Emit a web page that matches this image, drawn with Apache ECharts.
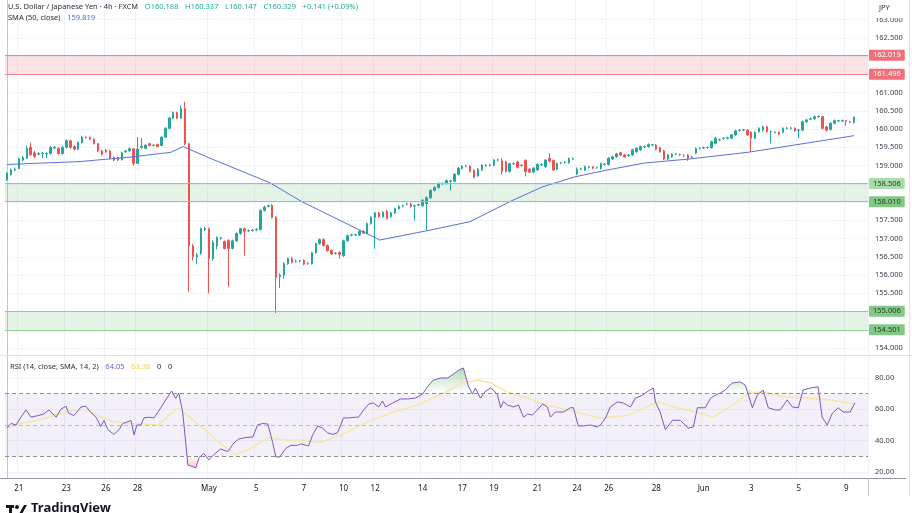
<!DOCTYPE html>
<html>
<head>
<meta charset="utf-8">
<title>USD/JPY 4h</title>
<script src="https://cdn.jsdelivr.net/npm/echarts@6/dist/echarts.min.js"></script>
<style>
  html, body { margin: 0; padding: 0; background: #fff; }
  #chart { width: 912px; height: 513px; }
</style>
</head>
<body>
<div id="chart"></div>
<script>
// 4h candles, ECharts order: [open, close, low, high]
const candles = [
  [158.62,158.78,158.58,158.82],[158.75,158.88,158.72,158.92],[158.88,158.90,158.85,158.95],[158.92,159.18,158.90,159.22],
  [159.15,159.22,159.12,159.26],[159.20,159.47,159.18,159.55],[159.50,159.30,159.26,159.62],[159.35,159.25,159.20,159.40],
  [159.31,159.33,159.28,159.37],[159.33,159.34,159.20,159.37],[159.32,159.33,159.20,159.36],[159.33,159.50,159.30,159.53],
  [159.48,159.50,159.45,159.54],[159.47,159.33,159.30,159.50],[159.33,159.50,159.30,159.55],[159.50,159.68,159.47,159.72],
  [159.68,159.50,159.46,159.70],[159.52,159.45,159.42,159.56],[159.45,159.63,159.42,159.66],[159.63,159.78,159.60,159.82],
  [159.78,159.77,159.74,159.80],[159.77,159.72,159.70,159.80],[159.72,159.60,159.58,159.75],[159.60,159.40,159.37,159.62],
  [159.40,159.30,159.27,159.43],[159.42,159.38,159.35,159.46],[159.40,159.20,159.17,159.43],[159.15,159.22,159.12,159.25],
  [159.22,159.15,159.12,159.25],[159.16,159.35,159.14,159.38],[159.38,159.40,159.35,159.43],[159.40,159.46,159.38,159.50],
  [159.46,159.06,159.00,159.48],[159.06,159.45,159.04,159.78],[159.50,159.52,159.46,159.75],[159.47,159.56,159.45,159.58],
  [159.60,159.55,159.52,159.62],[159.55,159.56,159.53,159.58],[159.58,159.52,159.50,159.60],[159.55,159.78,159.53,159.80],
  [159.78,160.02,159.76,160.05],[160.02,160.30,160.00,160.33],[160.30,160.45,160.27,160.48],[160.45,160.30,160.27,160.48],
  [160.30,160.56,160.28,160.65],[160.56,159.60,159.55,160.75],[159.60,156.80,155.54,159.62],[156.80,156.50,156.40,156.85],
  [156.50,156.55,156.31,156.60],[156.60,157.27,156.55,157.30],[157.25,157.28,157.20,157.32],[157.27,156.45,155.50,157.30],
  [156.45,156.90,156.40,156.95],[156.80,157.03,156.70,157.06],[157.00,157.02,156.97,157.05],[156.92,156.73,156.70,156.95],
  [156.95,156.73,155.68,156.98],[156.73,156.94,156.70,156.97],[156.94,157.14,156.90,157.17],[157.14,157.27,157.10,157.30],
  [157.27,157.20,156.53,157.30],[157.21,157.22,157.18,157.25],[157.22,157.23,157.19,157.26],[157.24,157.25,157.20,157.28],
  [157.25,157.77,157.22,157.80],[157.77,157.86,157.74,157.90],[157.88,157.90,157.85,157.93],[157.91,157.58,157.55,157.95],
  [157.58,155.93,154.96,157.62],[155.95,156.00,155.65,156.05],[156.00,156.31,155.90,156.35],[156.31,156.45,156.28,156.48],
  [156.45,156.35,156.32,156.50],[156.37,156.38,156.34,156.42],[156.38,156.39,156.35,156.41],[156.40,156.30,156.27,156.43],
  [156.31,156.32,156.28,156.36],[156.31,156.61,156.29,156.64],[156.61,156.86,156.58,156.89],[156.86,156.97,156.83,157.00],
  [156.97,156.81,156.78,157.00],[156.81,156.67,156.64,156.84],[156.67,156.58,156.55,156.70],[156.59,156.60,156.56,156.63],
  [156.62,156.57,156.45,156.65],[156.53,156.94,156.50,156.97],[156.94,157.08,156.91,157.11],[157.09,157.10,157.06,157.13],
  [157.10,157.11,157.07,157.13],[157.10,157.20,157.07,157.23],[157.20,157.15,157.12,157.23],[157.14,157.41,157.12,157.44],
  [157.41,157.58,157.38,157.61],[157.58,157.70,156.72,157.73],[157.70,157.60,157.57,157.73],[157.60,157.72,157.57,157.75],
  [157.75,157.55,157.52,157.78],[157.60,157.70,157.57,157.73],[157.70,157.82,157.67,157.85],[157.82,157.88,157.79,157.91],
  [157.89,157.90,157.86,157.93],[157.94,157.95,157.91,157.98],[157.95,157.88,157.85,157.98],[157.89,157.90,157.49,157.93],
  [157.92,157.93,157.89,157.96],[157.90,158.05,157.87,158.08],[157.95,158.12,157.22,158.15],[158.12,158.32,158.09,158.35],
  [158.32,158.40,158.29,158.43],[158.40,158.51,158.37,158.54],[158.50,158.51,158.47,158.54],[158.51,158.59,158.48,158.62],
  [158.57,158.58,158.32,158.61],[158.57,158.76,158.54,158.79],[158.76,158.93,158.73,158.96],[158.92,158.98,158.89,159.01],
  [158.98,158.99,158.95,159.02],[158.98,158.84,158.81,159.01],[158.87,158.68,158.65,158.90],[158.72,158.90,158.69,158.93],
  [158.88,159.01,158.85,159.04],[159.00,159.01,158.97,159.04],[159.01,159.02,158.97,159.03],[159.01,159.15,158.98,159.18],
  [159.15,159.16,159.12,159.19],[159.13,158.84,158.75,159.20],[159.10,158.84,158.81,159.13],[158.84,159.05,158.81,159.08],
  [159.05,159.06,159.02,159.08],[159.10,158.95,158.92,159.13],[159.00,159.01,158.97,159.04],[159.14,158.84,158.70,159.17],
  [158.90,158.82,158.79,158.93],[158.82,158.93,158.79,158.96],[158.88,159.03,158.85,159.06],[159.02,159.03,158.99,159.06],
  [158.97,159.15,158.94,159.18],[159.20,159.12,159.09,159.34],[159.14,158.88,158.85,159.17],[158.90,159.05,158.87,159.08],
  [159.07,159.08,159.04,159.10],[159.08,159.09,159.05,159.12],[159.08,159.19,159.05,159.22],[159.18,159.19,159.15,159.22],
  [158.77,158.90,158.74,158.95],[158.90,158.91,158.87,158.94],[158.88,158.97,158.85,159.00],[158.95,158.96,158.92,158.99],
  [158.96,158.93,158.90,158.99],[158.94,158.95,158.91,158.97],[158.92,159.05,158.89,159.08],[159.03,159.04,159.00,159.07],
  [159.03,159.20,159.00,159.23],[159.18,159.24,159.15,159.27],[159.24,159.32,159.21,159.35],[159.35,159.29,159.26,159.38],
  [159.29,159.24,159.21,159.32],[159.27,159.29,159.24,159.32],[159.29,159.43,159.26,159.46],[159.38,159.47,159.35,159.50],
  [159.43,159.52,159.40,159.55],[159.51,159.52,159.48,159.55],[159.52,159.58,159.49,159.61],[159.56,159.57,159.53,159.59],
  [159.56,159.45,159.42,159.59],[159.49,159.38,159.35,159.52],[159.40,159.18,159.15,159.43],[159.18,159.29,159.15,159.32],
  [159.24,159.31,159.21,159.34],[159.31,159.32,159.28,159.34],[159.30,159.29,159.26,159.33],[159.28,159.27,159.24,159.31],
  [159.29,159.20,159.13,159.32],[159.23,159.24,159.20,159.27],[159.34,159.47,159.31,159.50],[159.47,159.48,159.44,159.50],
  [159.48,159.49,159.45,159.52],[159.49,159.50,159.46,159.52],[159.49,159.65,159.46,159.68],[159.61,159.75,159.58,159.79],
  [159.71,159.70,159.67,159.74],[159.74,159.75,159.71,159.78],[159.75,159.76,159.72,159.79],[159.75,159.84,159.72,159.87],
  [159.84,159.95,159.81,159.98],[159.96,159.97,159.93,160.00],[159.97,159.98,159.94,160.00],[159.97,159.84,159.81,160.00],
  [159.91,159.75,159.38,159.94],[159.75,159.91,159.72,159.94],[159.93,160.02,159.90,160.05],[159.97,160.06,159.94,160.09],
  [160.06,159.93,159.90,160.09],[159.93,159.94,159.61,159.96],[159.91,159.92,159.88,159.94],[159.91,159.86,159.83,159.94],
  [159.91,160.02,159.88,160.05],[160.02,160.03,159.99,160.05],[160.02,160.03,159.99,160.06],[160.02,159.95,159.92,160.05],
  [159.96,159.97,159.75,160.00],[159.97,160.20,159.94,160.23],[160.20,160.25,160.17,160.28],[160.27,160.28,160.24,160.31],
  [160.28,160.34,160.25,160.37],[160.34,160.35,160.31,160.37],[160.34,160.02,159.99,160.37],[160.06,159.97,159.94,160.09],
  [159.99,160.16,159.96,160.19],[160.16,160.23,160.13,160.26],[160.22,160.23,160.19,160.25],[160.22,160.23,160.19,160.26],
  [160.23,160.21,160.09,160.25],[160.20,160.19,160.16,160.23],[160.188,160.329,160.147,160.337]
];

// SMA(50, close): [candle index, value]
const smaLine = [
  [0,159.03],[18.5,159.11],[31.9,159.24],[39.5,159.34],[41.3,159.36],[44.5,159.52],[51.3,159.20],[66.4,158.53],
  [74.5,158.01],[94.2,156.96],[106.8,157.23],[116.9,157.46],[127,158.01],[135.1,158.41],[143.4,158.69],[151.7,158.88],
  [161.1,159.07],[172.4,159.18],[187.6,159.37],[214,159.819]
];

// RSI(14): [candle index, value]
const rsiLine = [
  [0,48],[1,51],[2.3,50],[3.5,55],[4.8,59.6],[6.1,55],[7.8,56],[9.3,57],[10.6,59.6],[12.4,55],[13.6,60],[14.9,62],
  [15.6,57.5],[16.9,56],[18.7,61.5],[19.9,62],[21.2,58],[22.5,55],[23.7,49],[24.5,53],[25.5,47],[27,44],[28.3,47],
  [29.3,51],[30.5,52],[31.3,53],[32.1,43.6],[32.8,50],[33.8,50],[34.6,54.5],[35.8,55],[37.1,54.5],[38.1,58],[39.6,64],
  [40.6,68],[41.6,71.7],[42.6,67],[43.4,70.4],[44.4,58],[45.7,24.5],[47.7,22.6],[48.5,29],[49.7,32],[51,27.7],[52.2,31],
  [54,34.7],[55.8,33],[57.3,38.5],[58.5,41],[60.3,42],[62.1,42.3],[63.3,50],[64.6,51],[65.9,50.6],[67.1,39],[67.9,29.6],
  [68.9,29.6],[70.4,35],[71.7,37],[73.4,37],[74.2,38],[76.2,36.6],[77.2,43.6],[78.5,49.4],[79.7,48],[81,45],[82.3,44],
  [83.5,45],[85,54.5],[86.3,54.5],[88.1,55],[88.8,55],[90.1,59.6],[91.4,63.4],[92.6,64],[93.9,61.5],[94.9,65.3],
  [95.6,61.5],[97.4,64],[99.4,66.6],[101.2,66.6],[103.2,67.2],[105,69.8],[106.2,74.4],[107.7,78.7],[109.5,80],[111.3,80],
  [112.5,82],[114.1,85],[115.3,86.4],[116.6,74.4],[117.6,69.8],[118.3,73.6],[119.6,67.2],[120.9,71.7],[122.1,73.6],
  [122.9,72.3],[123.9,69.2],[124.7,61],[125.4,65],[126.4,62.8],[128,61.5],[129.2,62.8],[130.5,55],[131.5,57],[132.7,56.4],
  [134,59.6],[135.3,63.4],[136.5,61.5],[137.3,55],[138.5,58.3],[140.6,58.3],[142.3,61],[143.1,61],[144.3,49.4],
  [145.6,49.4],[147.4,50],[149.1,48.7],[149.9,50],[151.2,54.5],[152.4,61.5],[154.2,64.7],[155.7,64],[157.5,61.5],
  [158.7,67],[160.5,69],[162,71.7],[163.3,73.6],[163.8,64.7],[165,58.3],[166.3,47],[168.1,53],[170.1,53],[172.1,48],
  [173.4,48.7],[174.4,61],[176.4,61],[177.7,67],[178.9,69],[180.2,70.4],[181.4,72.3],[183.2,76.8],[185.2,77.5],
  [186.5,75.5],[188.3,61],[189.5,69],[191,72.3],[192.3,61],[194.1,59.6],[195.3,59.6],[197.1,66],[198.4,61.5],[199.9,61],
  [201.1,72.3],[202.9,73.6],[204.9,74.4],[205.9,55],[207.2,50],[208.5,57.5],[210,61],[211.2,58.3],[213,58.3],[214.2,64.05]
];

// SMA(14) of the RSI: [candle index, value]
const rsiSmaLine = [
  [0,48],[3.5,51],[7.8,53],[11.9,56],[16.2,59],[19.4,60],[23,56],[27,52],[32.1,51],[38.1,50],[43.2,61],[46.4,54.5],
  [50.7,45.5],[54.5,37],[57.8,31],[61.6,35],[65.9,42],[69.9,40.5],[74.2,40.5],[79.2,39],[84.3,43.6],[91.1,52],
  [97.7,58.3],[103.7,62.8],[110.3,70.4],[115.3,77],[118.9,78.7],[122.1,77],[126.4,71],[131.5,67.2],[136.5,62.8],
  [141.6,59.6],[146.6,56.4],[149.9,54.5],[156.7,56],[164.3,64.7],[169.3,61],[175.1,57.5],[178.4,55],[183.4,62.8],
  [187.2,70.4],[191,71],[196.1,68],[202.1,67.2],[207.9,66],[214.2,63.38]
];

const priceTicks = [154, 154.5, 155, 155.5, 156, 156.5, 157, 157.5, 158, 158.5, 159, 159.5, 160, 160.5, 161, 161.5, 162, 162.5, 163];
const rsiTicks = [20, 40, 60, 80];
const timeTickIndex = [3, 15, 25, 33, 51, 63, 75, 85, 93, 105, 115, 123, 134, 144, 152, 164, 176, 188, 200, 212];
const timeTickText = ['21', '23', '26', '28', 'May', '5', '7', '10', '12', '14', '17', '19', '21', '24', '26', '28', 'Jun', '3', '5', '9'];
const resistanceZone = [162.019, 161.496];
const supportZones = [[158.506, 158.010], [155.006, 154.501]];
const countdown = '29:17';

const FONT = "'Noto Sans', sans-serif";
const UP = '#26a69a';
const DOWN = '#ef5350';
const slotCount = 218;
const slots = Array.from({ length: slotCount }, (_, i) => String(i));
const tickAt = {};
timeTickIndex.forEach((idx, k) => { tickAt[idx] = timeTickText[k]; });
const isTimeTick = (index) => tickAt[index] !== undefined;

const last = candles[candles.length - 1];
const change = last[1] - last[0];
const changePct = change / last[0] * 100;
const sign = change >= 0 ? '+' : '';

// zone edge lines with their value boxes on the price scale
const zoneLines = [
  { yAxis: resistanceZone[0], color: '#f0838d', box: '#f26f7a', text: '#fff' },
  { yAxis: resistanceZone[1], color: '#f0838d', box: '#f26f7a', text: '#fff' },
  { yAxis: supportZones[0][0], color: '#8fcc91', box: '#a9dbab', text: '#1e3a20' },
  { yAxis: supportZones[0][1], color: '#8fcc91', box: '#84c887', text: '#1e3a20' },
  { yAxis: supportZones[1][0], color: '#8fcc91', box: '#84c887', text: '#1e3a20' },
  { yAxis: supportZones[1][1], color: '#8fcc91', box: '#84c887', text: '#1e3a20' }
].map(z => ({
  yAxis: z.yAxis,
  lineStyle: { color: z.color, width: 1, type: 'solid' },
  label: {
    show: true, position: 'end', distance: 1, formatter: z.yAxis.toFixed(3),
    backgroundColor: z.box, color: z.text, fontSize: 7.5, fontFamily: FONT,
    padding: [2, 4, 1, 4], borderRadius: 1
  }
}));

const lastPriceLine = {
  yAxis: last[1],
  lineStyle: { opacity: 0 },
  label: {
    show: true, position: 'end', distance: 1,
    formatter: last[1].toFixed(3) + '\n' + countdown,
    backgroundColor: '#089981', color: '#fff', fontSize: 7.5, lineHeight: 9,
    fontFamily: FONT, padding: [2, 4, 2, 4], offset: [0, 4]
  }
};

const option = {
  animation: false,
  backgroundColor: '#ffffff',
  textStyle: { fontFamily: FONT },
  grid: [
    { left: 5, right: 44, top: 0, height: 355 },
    { left: 5, right: 44, top: 356, height: 122 }
  ],
  xAxis: [
    {
      type: 'category', gridIndex: 0, data: slots, boundaryGap: true,
      axisLine: { show: false }, axisTick: { show: false }, axisLabel: { show: false },
      splitLine: { show: true, interval: isTimeTick, lineStyle: { color: '#f0f3fa' } }
    },
    {
      type: 'category', gridIndex: 1, data: slots, boundaryGap: true,
      axisLine: { show: false }, axisTick: { show: false },
      axisLabel: {
        interval: isTimeTick, formatter: (v) => tickAt[Number(v)] || '',
        color: '#131722', fontSize: 8, margin: 7, fontFamily: FONT
      },
      splitLine: { show: true, interval: isTimeTick, lineStyle: { color: '#f0f3fa' } }
    },
    { type: 'value', gridIndex: 0, min: -0.5, max: slotCount - 0.5, show: false },
    { type: 'value', gridIndex: 1, min: -0.5, max: slotCount - 0.5, show: false }
  ],
  yAxis: [
    {
      type: 'value', gridIndex: 0, position: 'right', min: 153.81, max: 163.536, scale: true,
      axisLine: { show: true, lineStyle: { color: '#c3c6ce' } },
      axisTick: { show: false, customValues: priceTicks },
      axisLabel: {
        customValues: priceTicks, formatter: (v) => v.toFixed(3),
        color: '#3b3f4a', fontSize: 7.5, margin: 7, fontFamily: FONT
      },
      splitLine: { show: true, lineStyle: { color: '#f0f3fa' } }
    },
    {
      type: 'value', gridIndex: 1, position: 'right', min: 16.17, max: 94.04,
      axisLine: { show: true, lineStyle: { color: '#c3c6ce' } },
      axisTick: { show: false, customValues: rsiTicks },
      axisLabel: {
        customValues: rsiTicks, formatter: (v) => v.toFixed(2),
        color: '#3b3f4a', fontSize: 7.5, margin: 7, fontFamily: FONT
      },
      splitLine: { show: true, lineStyle: { color: '#f0f3fa' } }
    }
  ],
  series: [
    {
      name: 'USDJPY', type: 'candlestick', xAxisIndex: 0, yAxisIndex: 0,
      data: candles, barWidth: 2,
      itemStyle: { color: UP, color0: DOWN, borderColor: UP, borderColor0: DOWN, borderWidth: 1 },
      markArea: {
        silent: true,
        data: [
          [{ yAxis: resistanceZone[0], itemStyle: { color: 'rgba(242,54,69,0.14)' } }, { yAxis: resistanceZone[1] }],
          [{ yAxis: supportZones[0][0], itemStyle: { color: 'rgba(76,175,80,0.15)' } }, { yAxis: supportZones[0][1] }],
          [{ yAxis: supportZones[1][0], itemStyle: { color: 'rgba(76,175,80,0.15)' } }, { yAxis: supportZones[1][1] }]
        ]
      },
      markLine: { silent: true, symbol: 'none', data: zoneLines.concat([lastPriceLine]) },
      z: 3
    },
    {
      name: 'SMA', type: 'line', xAxisIndex: 2, yAxisIndex: 0, data: smaLine,
      symbol: 'none', lineStyle: { color: '#5b6fd8', width: 1 }, z: 4
    },
    {
      name: 'RSI overbought', type: 'line', xAxisIndex: 3, yAxisIndex: 1,
      data: rsiLine.map(([x, v]) => [x, Math.max(v, 70)]),
      symbol: 'none', lineStyle: { width: 0, opacity: 0 },
      areaStyle: {
        origin: 70,
        color: new echarts.graphic.LinearGradient(0, 0, 0, 1, [
          { offset: 0, color: 'rgba(56,160,70,0.55)' },
          { offset: 1, color: 'rgba(76,175,80,0)' }
        ])
      },
      z: 2
    },
    {
      name: 'RSI oversold', type: 'line', xAxisIndex: 3, yAxisIndex: 1,
      data: rsiLine.map(([x, v]) => [x, Math.min(v, 30)]),
      symbol: 'none', lineStyle: { width: 0, opacity: 0 },
      areaStyle: {
        origin: 30,
        color: new echarts.graphic.LinearGradient(0, 0, 0, 1, [
          { offset: 0, color: 'rgba(242,54,69,0)' },
          { offset: 1, color: 'rgba(242,54,69,0.45)' }
        ])
      },
      z: 2
    },
    {
      name: 'RSI-based MA', type: 'line', xAxisIndex: 3, yAxisIndex: 1, data: rsiSmaLine,
      symbol: 'none', lineStyle: { color: '#f6e7a6', width: 1.5 }, z: 3
    },
    {
      name: 'RSI', type: 'line', xAxisIndex: 3, yAxisIndex: 1, data: rsiLine,
      symbol: 'none', lineStyle: { color: '#7e57c2', width: 1 }, z: 4,
      markArea: {
        silent: true,
        data: [[{ yAxis: 70, itemStyle: { color: 'rgba(126,87,194,0.09)' } }, { yAxis: 30 }]]
      },
      markLine: {
        silent: true, symbol: 'none', label: { show: false },
        data: [
          { yAxis: 70, lineStyle: { color: '#8c8f99', type: [4, 3], width: 1 } },
          { yAxis: 50, lineStyle: { color: 'rgba(140,143,153,0.55)', type: [4, 3], width: 1 } },
          { yAxis: 30, lineStyle: { color: '#8c8f99', type: [4, 3], width: 1 } }
        ]
      }
    }
  ],
  graphic: [
    {
      type: 'text', left: 8, top: 1, z: 20,
      style: {
        text: '{t|U.S. Dollar / Japanese Yen · 4h · FXCM}  {v|O' + last[0].toFixed(3) + '}  {v|H' + last[3].toFixed(3) +
          '}  {v|L' + last[2].toFixed(3) + '}  {v|C' + last[1].toFixed(3) + '}  {v|' + sign + change.toFixed(3) +
          ' (' + sign + changePct.toFixed(2) + '%)}',
        rich: {
          t: { fill: '#2a2e39', fontSize: 7.5, fontFamily: FONT },
          v: { fill: '#22ab94', fontSize: 7.5, fontFamily: FONT }
        }
      }
    },
    {
      type: 'text', left: 8, top: 12, z: 20,
      style: {
        text: '{t|SMA (50, close)}  {v|' + smaLine[smaLine.length - 1][1].toFixed(3) + '}',
        rich: {
          t: { fill: '#2a2e39', fontSize: 7.5, fontFamily: FONT },
          v: { fill: '#4a67e0', fontSize: 7.5, fontFamily: FONT }
        }
      }
    },
    {
      type: 'text', left: 10, top: 361, z: 20,
      style: {
        text: '{t|RSI (14, close, SMA, 14, 2)}  {p|' + rsiLine[rsiLine.length - 1][1].toFixed(2) + '}  {y|' +
          rsiSmaLine[rsiSmaLine.length - 1][1].toFixed(2) + '}  {t|0}  {t|0}',
        rich: {
          t: { fill: '#2a2e39', fontSize: 7.5, fontFamily: FONT },
          p: { fill: '#7e57c2', fontSize: 7.5, fontFamily: FONT },
          y: { fill: '#e9cf62', fontSize: 7.5, fontFamily: FONT }
        }
      }
    },
    // price scale header, hiding the top of the first label as in the screenshot
    { type: 'rect', shape: { x: 869, y: 0, width: 40, height: 18 }, style: { fill: '#fff' }, z: 30 },
    { type: 'text', x: 879, y: 4, z: 31, style: { text: 'JPY', fill: '#2a2e39', fontSize: 7.5, fontFamily: FONT } },
    // panel separators
    { type: 'line', shape: { x1: 0, y1: 355.5, x2: 912, y2: 355.5 }, style: { stroke: '#e0e3eb', lineWidth: 1 }, z: 10 },
    { type: 'line', shape: { x1: 0, y1: 478.5, x2: 906, y2: 478.5 }, style: { stroke: '#9598a1', lineWidth: 1 }, z: 10 },
    { type: 'line', shape: { x1: 868.5, y1: 478, x2: 868.5, y2: 496 }, style: { stroke: '#c3c6ce', lineWidth: 1 }, z: 10 },
    { type: 'line', shape: { x1: 909.5, y1: 0, x2: 909.5, y2: 496 }, style: { stroke: '#e0e3eb', lineWidth: 1 }, z: 10 },
    // logo, cut by the bottom edge like in the screenshot
    { type: 'rect', shape: { x: 6, y: 505, width: 8, height: 3 }, style: { fill: '#131722' }, z: 20 },
    { type: 'rect', shape: { x: 9, y: 505, width: 3, height: 10 }, style: { fill: '#131722' }, z: 20 },
    { type: 'circle', shape: { cx: 17, cy: 507, r: 2 }, style: { fill: '#131722' }, z: 20 },
    { type: 'polygon', shape: { points: [[19, 514], [24, 505], [27, 505], [22, 514]] }, style: { fill: '#131722' }, z: 20 },
    { type: 'text', x: 31, y: 502, z: 20, style: { text: 'TradingView', fill: '#131722', fontSize: 13, fontWeight: 'bold', fontFamily: FONT } }
  ]
};

const chart = echarts.init(document.getElementById('chart'), null, { renderer: 'canvas' });
chart.setOption(option);
</script>
</body>
</html>
